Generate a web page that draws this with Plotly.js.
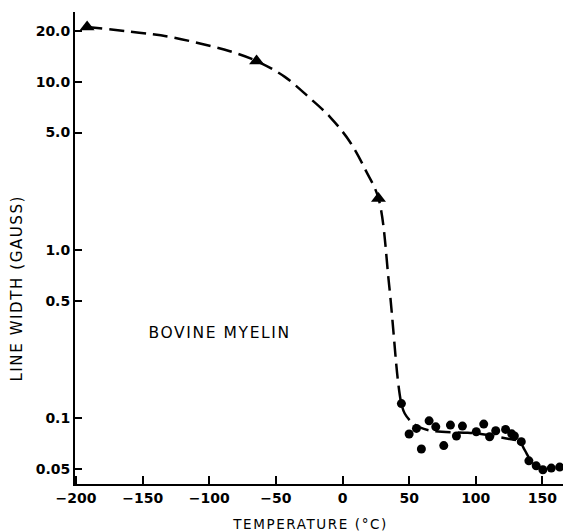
<!DOCTYPE html>
<html>
<head>
<meta charset="utf-8">
<script src="https://cdn.plot.ly/plotly-3.0.1.min.js"></script>
<style>
html,body{margin:0;padding:0;background:#fff;}
#chart{width:565px;height:531px;}
#chart .annotation-text{letter-spacing:1.6px;}
</style>
</head>
<body>
<div id="chart"></div>
<script>
// Low-temperature points (triangles)
var triTemp = [-191.7, -64.5, 27.0];
var triWidth = [21.2, 13.3, 2.03];

// High-temperature points (circles)
var dotTemp = [44.2, 50, 55.5, 59.2, 65, 70, 76, 81, 85.5, 90, 100.4, 106, 110.4, 115, 122.4, 127, 129, 134.2, 139.9, 145.4, 150.4, 156.7, 163];
var dotWidth = [0.1226, 0.0808, 0.0873, 0.0659, 0.0968, 0.0892, 0.069, 0.0913, 0.0787, 0.0901, 0.0834, 0.0926, 0.0779, 0.0845, 0.0861, 0.081, 0.0787, 0.0728, 0.056, 0.0523, 0.0496, 0.0507, 0.0514];

// Hand-drawn dashed guide curve
var curveTemp = [-191.7, -152.6, -129.5, -107, -84.5, -64.5, -43.3, -24.5, -9.5, 5.5, 17.5, 27.0, 35.0, 41.7, 44.2, 46.7, 51.7, 58, 68, 94, 100.4, 123, 133, 136.7, 143, 149];
var curveWidth = [21.2, 19.6, 18.5, 16.9, 15.2, 13.3, 10.7, 8.0, 6.2, 4.41, 2.97, 2.03, 0.62, 0.165, 0.1226, 0.107, 0.0955, 0.0885, 0.0842, 0.0822, 0.0815, 0.076, 0.0728, 0.065, 0.054, 0.0505];

// Axis ticks
var xTickVals = [-200, -150, -100, -50, 0, 50, 100, 150];
var xTickText = ["\u2212200", "\u2212150", "\u2212100", "\u221250", "0", "50", "100", "150"];
var yTickVals = [0.05, 0.1, 0.5, 1, 5, 10, 20];
var yTickText = ["0.05", "0.1", "0.5", "1.0", "5.0", "10.0", "20.0"];

var traces = [
  {x: curveTemp, y: curveWidth, mode: 'lines', type: 'scatter',
   line: {color: '#000', width: 2.5, dash: '15px,7px', shape: 'spline', smoothing: 1}, hoverinfo: 'skip'},
  {x: triTemp, y: triWidth, mode: 'markers', type: 'scatter',
   marker: {symbol: 'triangle-up', size: 13, color: '#000'}},
  {x: dotTemp, y: dotWidth, mode: 'markers', type: 'scatter',
   marker: {symbol: 'circle', size: 9, color: '#000'}}
];

var W = 565, H = 531, mL = 75, mR = 2, mT = 12, mB = 47;
var plotW = W - mL - mR, plotH = H - mT - mB;
function px(x) { return (x - mL) / plotW; }
function py(y) { return (H - mB - y) / plotH; }

var tickFont = {family: 'DejaVu Sans', size: 14, color: '#000', weight: 'bold'};
var layout = {
  width: W, height: H,
  margin: {l: mL, r: mR, t: mT, b: mB},
  paper_bgcolor: '#fff', plot_bgcolor: '#fff',
  showlegend: false,
  xaxis: {
    range: [-200.8, 165.5], showgrid: false, zeroline: false,
    showline: true, linecolor: '#000', linewidth: 2,
    ticks: 'inside', ticklen: 8, tickwidth: 2, tickcolor: '#000',
    tickmode: 'array', tickvals: xTickVals, ticktext: xTickText,
    tickfont: tickFont
  },
  yaxis: {
    type: 'log', range: [Math.log10(0.0408), Math.log10(26)],
    showgrid: false, zeroline: false,
    showline: true, linecolor: '#000', linewidth: 2,
    ticks: 'inside', ticklen: 7, tickwidth: 2, tickcolor: '#000',
    tickmode: 'array', tickvals: yTickVals, ticktext: yTickText,
    tickfont: tickFont
  },
  annotations: [
    {text: 'BOVINE MYELIN', x: -92.7, y: Math.log10(0.324), xref: 'x', yref: 'y',
     xanchor: 'center', yanchor: 'middle',
     showarrow: false, font: {family: 'DejaVu Sans', size: 15.5, color: '#000'}},
    {text: 'TEMPERATURE (\u00B0C)', x: px(310), y: py(524), xref: 'paper', yref: 'paper',
     xanchor: 'center', yanchor: 'middle',
     showarrow: false, font: {family: 'DejaVu Sans', size: 13.5, color: '#000'}},
    {text: 'LINE WIDTH (GAUSS)', textangle: -90, x: px(17.2), y: py(288), xref: 'paper', yref: 'paper',
     xanchor: 'center', yanchor: 'middle',
     showarrow: false, font: {family: 'DejaVu Sans', size: 15, color: '#000'}}
  ]
};

Plotly.newPlot('chart', traces, layout, {displayModeBar: false, staticPlot: true});
</script>
</body>
</html>
